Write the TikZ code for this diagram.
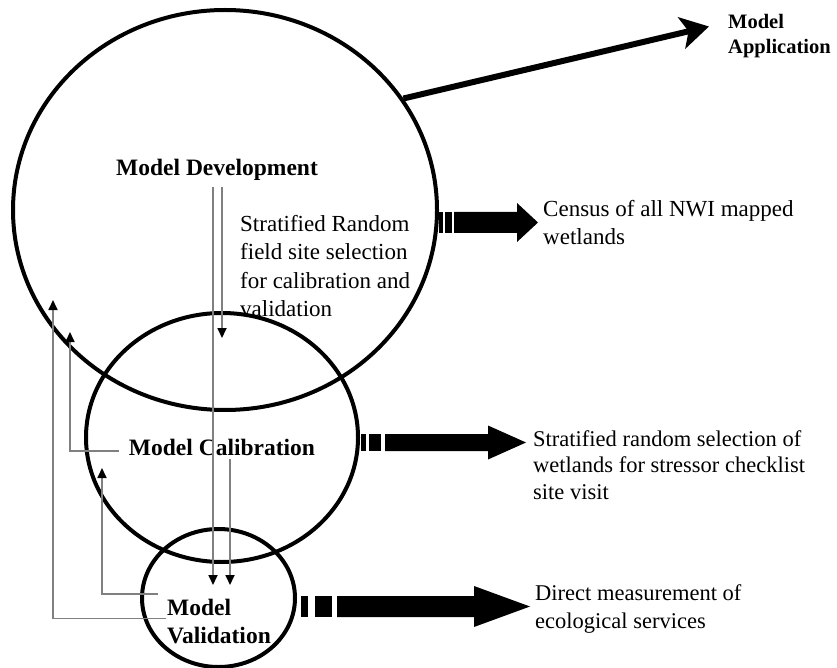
\documentclass[tikz,border=0pt]{standalone}
\usepackage{fontspec}
\setmainfont{Liberation Serif}
\usetikzlibrary{arrows.meta,shapes.geometric}

\begin{document}
\begin{tikzpicture}
	[x = 1pt, y = -1pt,
	ring/.style = {draw, ellipse, line width = 4pt, inner sep = 0pt},
	stage/.style = {font = \bfseries\fontsize{23.5}{28}\selectfont, inner sep = 0pt, align = left},
	note/.style = {font = \fontsize{23}{28.5}\selectfont, inner sep = 0pt, align = left, anchor = north west},
	flow/.style = {draw = gray, line width = 1.7pt, -{Triangle[length = 10pt, width = 9pt, color = black]}}]
	\useasboundingbox (0,0) rectangle (837,668);
	\node [ring, minimum width = 424pt, minimum height = 400pt] (devring) at (225,210) {};
	\node [ring, minimum width = 272pt, minimum height = 249pt] (calring) at (222,437.5) {};
	\node [ring, minimum width = 153pt, minimum height = 138pt] (valring) at (218.5,598) {};
	\node [stage] (devlbl) at (217,169.5) {Model Development};
	\node [stage] (callbl) at (222,447) {Model Calibration};
	\node [stage, anchor = north west] (vallbl) at (167,599) {Model\\Validation};
	\node [stage, anchor = north west, font = \bfseries\fontsize{20.5}{25}\selectfont] (appllbl) at (728,14.5) {Model\\Application};
	\node [note] (selnote) at (240,215) {Stratified Random\\field site selection\\for calibration and\\validation};
	\node [note] (censusnote) at (543,200) {Census of all NWI mapped\\wetlands};
	\node [note, font = \fontsize{22.5}{26.5}\selectfont] (stressnote) at (533,430) {Stratified random selection of\\wetlands for stressor checklist\\site visit};
	\node [note, font = \fontsize{22.5}{28}\selectfont] (directnote) at (535,584) {Direct measurement of\\ecological services};
	\draw [line width = 6pt, -{Stealth[length = 28pt, width = 32pt, inset = 7pt]}] (devring.32) -- ([shift = {(-19,12)}]appllbl.north west);
	% block arrows out of the rings
	\fill (439,212) rectangle (443,233);
	\fill (445,212) rectangle (452,233);
	\fill (454,212) -- (517,212) -- (517,203) -- (538,222.5) -- (517,242) -- (517,233) -- (454,233) -- cycle;
	\fill (361,434) rectangle (366,451);
	\fill (369,434) rectangle (381,451);
	\fill (385,434) -- (488,434) -- (488,425.5) -- (526,442.5) -- (488,459.5) -- (488,451) -- (385,451) -- cycle;
	\fill (301,596) rectangle (308,617);
	\fill (315,596) rectangle (332,617);
	\fill (337,596) -- (474,596) -- (474,586) -- (530,606.5) -- (474,627) -- (474,617) -- (337,617) -- cycle;
	% thin arrows between stages
	\coordinate (dctip) at (222,338);
	\coordinate (dvtip) at (213,585);
	\coordinate (cvtip) at (230,585);
	\coordinate (vdtip) at (53,300);
	\coordinate (vctip) at (102,468);
	\coordinate (cdtip) at (70,332);
	\draw [flow, shorten <= 7pt] (devlbl.south -| dctip) -- (dctip);
	\draw [flow, shorten <= 7pt] (devlbl.south -| dvtip) -- (dvtip);
	\draw [flow, shorten <= 4pt] (callbl.south -| cvtip) -- (cvtip);
	\draw [flow] ([shift = {(-10,4)}]callbl.west) -| (cdtip);
	\draw [flow] ([shift = {(-9,-5)}]vallbl.north west) -| (vctip);
	\draw [flow] ([shift = {(-1,-3)}]vallbl.west) -| (vdtip);
\end{tikzpicture}
\end{document}
